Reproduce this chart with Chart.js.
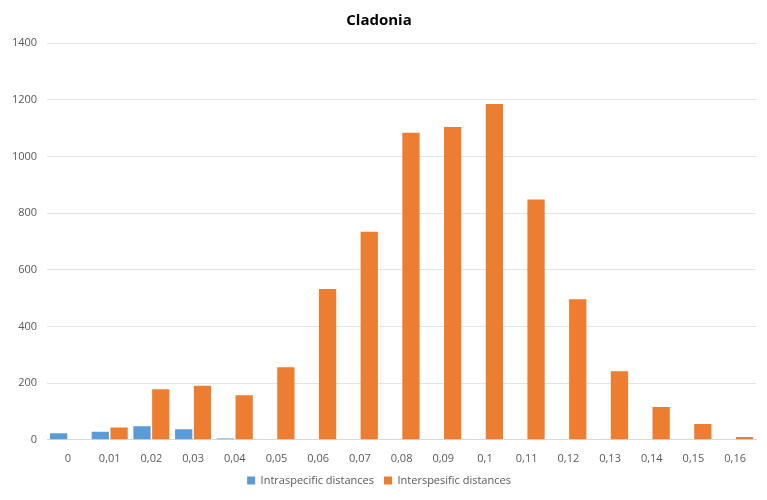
<!DOCTYPE html>
<html>
<head>
<meta charset="utf-8">
<script src="https://cdn.jsdelivr.net/npm/chart.js@4"></script>
<style>
  html, body { margin: 0; padding: 0; background: #fff; }
  #wrap { width: 767px; height: 500px; }
</style>
</head>
<body>
<div id="wrap"><canvas id="cladoniaChart" width="767" height="500"></canvas></div>
<script>
const categories = ["0", "0,01", "0,02", "0,03", "0,04", "0,05", "0,06", "0,07", "0,08", "0,09", "0,1", "0,11", "0,12", "0,13", "0,14", "0,15", "0,16"];
const intraValues = [23, 28, 48, 37, 5, 0, 0, 0, 0, 0, 0, 0, 0, 0, 0, 0, 0];
const interValues = [0, 43, 178, 191, 157, 256, 532, 734, 1083, 1104, 1185, 848, 496, 242, 116, 56, 10];

Chart.defaults.font.family = "'Open Sans', 'Liberation Sans', sans-serif";
Chart.defaults.color = '#595959';

const ctx = document.getElementById('cladoniaChart').getContext('2d');
const cladoniaChart = new Chart(ctx, {
    type: 'bar',
    data: {
        labels: categories,
        datasets: [{
            label: 'Intraspecific distances',
            data: intraValues,
            backgroundColor: '#5B9BD5',
            barPercentage: 0.92,
            categoryPercentage: 0.9
        }, {
            label: 'Interspesific distances',
            data: interValues,
            backgroundColor: '#ED7D31',
            barPercentage: 0.92,
            categoryPercentage: 0.9
        }]
    },
    options: {
        responsive: false,
        animation: false,
        layout: { padding: { left: 2, right: 11, top: 4, bottom: 4 } },
        plugins: {
            title: {
                display: true,
                text: 'Cladonia',
                color: '#000',
                font: { size: 15, weight: 'bold' },
                padding: { top: 8, bottom: 13 }
            },
            legend: {
                position: 'bottom',
                labels: {
                    boxWidth: 8,
                    boxHeight: 8,
                    font: { size: 11 },
                    padding: 10
                }
            },
            tooltip: { enabled: false }
        },
        scales: {
            x: {
                grid: { display: false, drawTicks: false },
                border: { color: '#d9d9d9' },
                ticks: { font: { size: 11 }, maxRotation: 0, padding: 12 },
                // drop the extra padding chart.js adds under the labels
                afterFit: (scale) => { scale.height -= 12; }
            },
            y: {
                min: 0,
                max: 1400,
                ticks: {
                    stepSize: 200,
                    font: { size: 11 },
                    padding: 10,
                    callback: (v) => String(v)
                },
                grid: { color: '#e3e3e3', drawTicks: false },
                border: { display: false }
            }
        }
    }
});
</script>
</body>
</html>
